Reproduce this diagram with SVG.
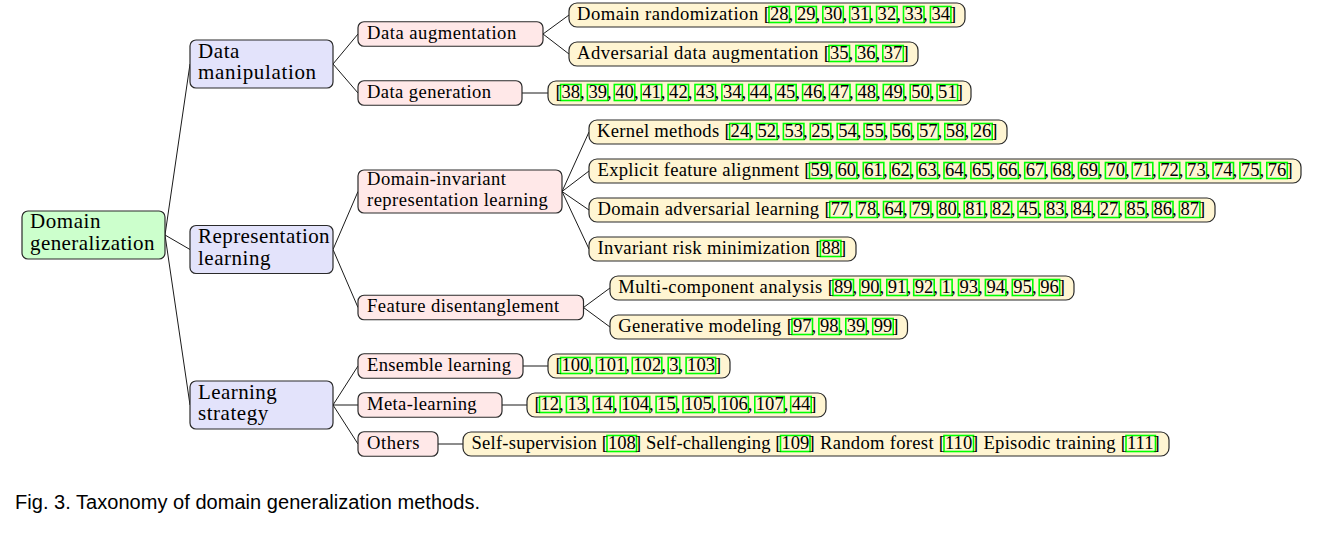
<svg xmlns="http://www.w3.org/2000/svg" width="1324" height="540" viewBox="0 0 1324 540">
<style>
.bg{fill:#ffffff}
.e path{stroke:#000;stroke-width:0.9;fill:none}
.r0{fill:#ccffcc;stroke:#2a2a2a;stroke-width:1.2}
.r1{fill:#e3e3fb;stroke:#2a2a2a;stroke-width:1.2}
.r2{fill:#ffe8e8;stroke:#2a2a2a;stroke-width:1.2}
.r3{fill:#fff5d2;stroke:#2a2a2a;stroke-width:1.2}
.c{fill:none;stroke:#00ff00;stroke-width:1.6}
text{font-family:"Liberation Serif","Times New Roman",serif;fill:#000}
.t1{font-size:21px}
.t2{font-size:18.6px}
.cap{font-family:"Liberation Sans",Arial,sans-serif;font-size:20px}
</style>
<rect class="bg" x="0" y="0" width="1324" height="540"/>
<g id="connectors" class="e">
<path d="M165,235 L190,64 M165,235 L190,249.5 M165,235 L190,405"/>
<path d="M333,64 L358,34 M333,64 L358,93"/>
<path d="M333,249.5 L358,191.5 M333,249.5 L358,307.5"/>
<path d="M333,405 L358,366 M333,405 L358,405 M333,405 L358,444"/>
<path d="M543,34 L569,15 M543,34 L569,54"/>
<path d="M522,93 L548,93"/>
<path d="M562,191.5 L589,132 M562,191.5 L589,171 M562,191.5 L589,210 M562,191.5 L589,249"/>
<path d="M583.5,307.5 L610,288 M583.5,307.5 L610,327"/>
<path d="M523,366 L548,366 M502,405 L527,405 M438,444 L463,444"/>
</g>
<g id="root">
<rect class="r0" x="22" y="211" width="143" height="48" rx="6"/>
<text class="t1" x="30" y="228" textLength="70.4">Domain</text>
<text class="t1" x="30" y="249.5" textLength="124.5">generalization</text>
</g>
<g id="data-manipulation">
<rect class="r1" x="190" y="40" width="143" height="48" rx="6"/>
<text class="t1" x="198" y="57.5" textLength="41.4">Data</text>
<text class="t1" x="198" y="79" textLength="118.1">manipulation</text>
</g>
<g id="representation-learning">
<rect class="r1" x="190" y="225.5" width="143" height="48" rx="6"/>
<text class="t1" x="198" y="243" textLength="131.6">Representation</text>
<text class="t1" x="198" y="264.5" textLength="72.4">learning</text>
</g>
<g id="learning-strategy">
<rect class="r1" x="190" y="381" width="143" height="48" rx="6"/>
<text class="t1" x="198" y="398.5" textLength="78.7">Learning</text>
<text class="t1" x="198" y="420" textLength="70.2">strategy</text>
</g>
<g id="data-augmentation">
<rect class="r2" x="358" y="21.75" width="185" height="24.5" rx="6"/>
<text class="t2" x="367" y="38.5" textLength="149.2">Data augmentation</text>
</g>
<g id="data-generation">
<rect class="r2" x="358" y="80.75" width="164" height="24.5" rx="6"/>
<text class="t2" x="367" y="97.5" textLength="124">Data generation</text>
</g>
<g id="domain-invariant">
<rect class="r2" x="358" y="170" width="204" height="43" rx="6"/>
<text class="t2" x="367" y="185" textLength="139">Domain-invariant</text>
<text class="t2" x="367" y="206" textLength="180.8">representation learning</text>
</g>
<g id="feature-disentanglement">
<rect class="r2" x="358" y="295.25" width="225.5" height="24.5" rx="6"/>
<text class="t2" x="367" y="312" textLength="192.1">Feature disentanglement</text>
</g>
<g id="ensemble-learning">
<rect class="r2" x="358" y="353.75" width="165" height="24.5" rx="6"/>
<text class="t2" x="367" y="370.5" textLength="144">Ensemble learning</text>
</g>
<g id="meta-learning">
<rect class="r2" x="358" y="392.75" width="144" height="24.5" rx="6"/>
<text class="t2" x="367" y="409.5" textLength="109.6">Meta-learning</text>
</g>
<g id="others">
<rect class="r2" x="358" y="431.75" width="80" height="24.5" rx="6"/>
<text class="t2" x="367" y="448.5" textLength="52.4">Others</text>
</g>
<g id="leaf-domain-randomization">
<rect class="r3" x="569" y="3" width="396" height="24" rx="8"/>
<g class="c"><rect x="769" y="6.5" width="20.5" height="16"/><rect x="795.9" y="6.5" width="20.5" height="16"/><rect x="822.8" y="6.5" width="20.5" height="16"/><rect x="849.7" y="6.5" width="20.5" height="16"/><rect x="876.6" y="6.5" width="20.5" height="16"/><rect x="903.5" y="6.5" width="20.5" height="16"/><rect x="930.4" y="6.5" width="20.5" height="16"/></g>
<text class="t2" y="19.5"><tspan x="577" textLength="193">Domain randomization [</tspan><tspan x="770">28, </tspan><tspan x="796.9">29, </tspan><tspan x="823.8">30, </tspan><tspan x="850.7">31, </tspan><tspan x="877.6">32, </tspan><tspan x="904.5">33, </tspan><tspan x="931.4">34]</tspan></text>
</g>
<g id="leaf-adversarial-data-augmentation">
<rect class="r3" x="569" y="42" width="349" height="24" rx="8"/>
<g class="c"><rect x="829" y="45.5" width="20.5" height="16"/><rect x="855.9" y="45.5" width="20.5" height="16"/><rect x="882.8" y="45.5" width="20.5" height="16"/></g>
<text class="t2" y="58.5"><tspan x="577" textLength="253">Adversarial data augmentation [</tspan><tspan x="830">35, </tspan><tspan x="856.9">36, </tspan><tspan x="883.8">37]</tspan></text>
</g>
<g id="leaf-data-generation-refs">
<rect class="r3" x="548" y="81" width="423" height="24" rx="8"/>
<g class="c"><rect x="560.5" y="84.5" width="20.5" height="16"/><rect x="587.4" y="84.5" width="20.5" height="16"/><rect x="614.3" y="84.5" width="20.5" height="16"/><rect x="641.2" y="84.5" width="20.5" height="16"/><rect x="668.1" y="84.5" width="20.5" height="16"/><rect x="695" y="84.5" width="20.5" height="16"/><rect x="721.9" y="84.5" width="20.5" height="16"/><rect x="748.8" y="84.5" width="20.5" height="16"/><rect x="775.7" y="84.5" width="20.5" height="16"/><rect x="802.6" y="84.5" width="20.5" height="16"/><rect x="829.5" y="84.5" width="20.5" height="16"/><rect x="856.4" y="84.5" width="20.5" height="16"/><rect x="883.3" y="84.5" width="20.5" height="16"/><rect x="910.2" y="84.5" width="20.5" height="16"/><rect x="937.1" y="84.5" width="20.5" height="16"/></g>
<text class="t2" y="97.5"><tspan x="555.5">[</tspan><tspan x="561.5">38, </tspan><tspan x="588.4">39, </tspan><tspan x="615.3">40, </tspan><tspan x="642.2">41, </tspan><tspan x="669.1">42, </tspan><tspan x="696">43, </tspan><tspan x="722.9">34, </tspan><tspan x="749.8">44, </tspan><tspan x="776.7">45, </tspan><tspan x="803.6">46, </tspan><tspan x="830.5">47, </tspan><tspan x="857.4">48, </tspan><tspan x="884.3">49, </tspan><tspan x="911.2">50, </tspan><tspan x="938.1">51]</tspan></text>
</g>
<g id="leaf-kernel-methods">
<rect class="r3" x="589" y="120" width="418" height="24" rx="8"/>
<g class="c"><rect x="729.6" y="123.5" width="20.5" height="16"/><rect x="756.5" y="123.5" width="20.5" height="16"/><rect x="783.4" y="123.5" width="20.5" height="16"/><rect x="810.3" y="123.5" width="20.5" height="16"/><rect x="837.2" y="123.5" width="20.5" height="16"/><rect x="864.1" y="123.5" width="20.5" height="16"/><rect x="891" y="123.5" width="20.5" height="16"/><rect x="917.9" y="123.5" width="20.5" height="16"/><rect x="944.8" y="123.5" width="20.5" height="16"/><rect x="971.7" y="123.5" width="20.5" height="16"/></g>
<text class="t2" y="136.5"><tspan x="597" textLength="133.6">Kernel methods [</tspan><tspan x="730.6">24, </tspan><tspan x="757.5">52, </tspan><tspan x="784.4">53, </tspan><tspan x="811.3">25, </tspan><tspan x="838.2">54, </tspan><tspan x="865.1">55, </tspan><tspan x="892">56, </tspan><tspan x="918.9">57, </tspan><tspan x="945.8">58, </tspan><tspan x="972.7">26]</tspan></text>
</g>
<g id="leaf-explicit-feature-alignment">
<rect class="r3" x="589" y="159" width="712" height="24" rx="8"/>
<g class="c"><rect x="809.5" y="162.5" width="20.5" height="16"/><rect x="836.4" y="162.5" width="20.5" height="16"/><rect x="863.3" y="162.5" width="20.5" height="16"/><rect x="890.2" y="162.5" width="20.5" height="16"/><rect x="917.1" y="162.5" width="20.5" height="16"/><rect x="944" y="162.5" width="20.5" height="16"/><rect x="970.9" y="162.5" width="20.5" height="16"/><rect x="997.8" y="162.5" width="20.5" height="16"/><rect x="1024.7" y="162.5" width="20.5" height="16"/><rect x="1051.6" y="162.5" width="20.5" height="16"/><rect x="1078.5" y="162.5" width="20.5" height="16"/><rect x="1105.4" y="162.5" width="20.5" height="16"/><rect x="1132.3" y="162.5" width="20.5" height="16"/><rect x="1159.2" y="162.5" width="20.5" height="16"/><rect x="1186.1" y="162.5" width="20.5" height="16"/><rect x="1213" y="162.5" width="20.5" height="16"/><rect x="1239.9" y="162.5" width="20.5" height="16"/><rect x="1266.8" y="162.5" width="20.5" height="16"/></g>
<text class="t2" y="175.5"><tspan x="597.5" textLength="213">Explicit feature alignment [</tspan><tspan x="810.5">59, </tspan><tspan x="837.4">60, </tspan><tspan x="864.3">61, </tspan><tspan x="891.2">62, </tspan><tspan x="918.1">63, </tspan><tspan x="945">64, </tspan><tspan x="971.9">65, </tspan><tspan x="998.8">66, </tspan><tspan x="1025.7">67, </tspan><tspan x="1052.6">68, </tspan><tspan x="1079.5">69, </tspan><tspan x="1106.4">70, </tspan><tspan x="1133.3">71, </tspan><tspan x="1160.2">72, </tspan><tspan x="1187.1">73, </tspan><tspan x="1214">74, </tspan><tspan x="1240.9">75, </tspan><tspan x="1267.8">76]</tspan></text>
</g>
<g id="leaf-domain-adversarial-learning">
<rect class="r3" x="589" y="198" width="626" height="24" rx="8"/>
<g class="c"><rect x="829.7" y="201.5" width="20.5" height="16"/><rect x="856.6" y="201.5" width="20.5" height="16"/><rect x="883.5" y="201.5" width="20.5" height="16"/><rect x="910.4" y="201.5" width="20.5" height="16"/><rect x="937.3" y="201.5" width="20.5" height="16"/><rect x="964.2" y="201.5" width="20.5" height="16"/><rect x="991.1" y="201.5" width="20.5" height="16"/><rect x="1018" y="201.5" width="20.5" height="16"/><rect x="1044.9" y="201.5" width="20.5" height="16"/><rect x="1071.8" y="201.5" width="20.5" height="16"/><rect x="1098.7" y="201.5" width="20.5" height="16"/><rect x="1125.6" y="201.5" width="20.5" height="16"/><rect x="1152.5" y="201.5" width="20.5" height="16"/><rect x="1179.4" y="201.5" width="20.5" height="16"/></g>
<text class="t2" y="214.5"><tspan x="597.5" textLength="233.2">Domain adversarial learning [</tspan><tspan x="830.7">77, </tspan><tspan x="857.6">78, </tspan><tspan x="884.5">64, </tspan><tspan x="911.4">79, </tspan><tspan x="938.3">80, </tspan><tspan x="965.2">81, </tspan><tspan x="992.1">82, </tspan><tspan x="1019">45, </tspan><tspan x="1045.9">83, </tspan><tspan x="1072.8">84, </tspan><tspan x="1099.7">27, </tspan><tspan x="1126.6">85, </tspan><tspan x="1153.5">86, </tspan><tspan x="1180.4">87]</tspan></text>
</g>
<g id="leaf-invariant-risk-minimization">
<rect class="r3" x="589" y="237" width="267" height="24" rx="8"/>
<g class="c"><rect x="820.4" y="240.5" width="20.5" height="16"/></g>
<text class="t2" y="253.5"><tspan x="597.5" textLength="223.9">Invariant risk minimization [</tspan><tspan x="821.4">88]</tspan></text>
</g>
<g id="leaf-multi-component-analysis">
<rect class="r3" x="610" y="276" width="464" height="24" rx="8"/>
<g class="c"><rect x="833" y="279.5" width="20.5" height="16"/><rect x="859.9" y="279.5" width="20.5" height="16"/><rect x="886.8" y="279.5" width="20.5" height="16"/><rect x="913.7" y="279.5" width="20.5" height="16"/><rect x="940.6" y="279.5" width="11.5" height="16"/><rect x="958.5" y="279.5" width="20.5" height="16"/><rect x="985.4" y="279.5" width="20.5" height="16"/><rect x="1012.3" y="279.5" width="20.5" height="16"/><rect x="1039.2" y="279.5" width="20.5" height="16"/></g>
<text class="t2" y="292.5"><tspan x="618.3" textLength="215.7">Multi-component analysis [</tspan><tspan x="834">89, </tspan><tspan x="860.9">90, </tspan><tspan x="887.8">91, </tspan><tspan x="914.7">92, </tspan><tspan x="941.6">1, </tspan><tspan x="959.5">93, </tspan><tspan x="986.4">94, </tspan><tspan x="1013.3">95, </tspan><tspan x="1040.2">96]</tspan></text>
</g>
<g id="leaf-generative-modeling">
<rect class="r3" x="610" y="315" width="297.5" height="24" rx="8"/>
<g class="c"><rect x="792" y="318.5" width="20.5" height="16"/><rect x="818.9" y="318.5" width="20.5" height="16"/><rect x="845.8" y="318.5" width="20.5" height="16"/><rect x="872.7" y="318.5" width="20.5" height="16"/></g>
<text class="t2" y="331.5"><tspan x="618.3" textLength="174.7">Generative modeling [</tspan><tspan x="793">97, </tspan><tspan x="819.9">98, </tspan><tspan x="846.8">39, </tspan><tspan x="873.7">99]</tspan></text>
</g>
<g id="leaf-ensemble-refs">
<rect class="r3" x="548" y="354" width="182" height="24" rx="8"/>
<g class="c"><rect x="560.5" y="357.5" width="29.5" height="16"/><rect x="596.4" y="357.5" width="29.5" height="16"/><rect x="632.3" y="357.5" width="29.5" height="16"/><rect x="668.2" y="357.5" width="11.5" height="16"/><rect x="686.1" y="357.5" width="29.5" height="16"/></g>
<text class="t2" y="370.5"><tspan x="555.5">[</tspan><tspan x="561.5">100, </tspan><tspan x="597.4">101, </tspan><tspan x="633.3">102, </tspan><tspan x="669.2">3, </tspan><tspan x="687.1">103]</tspan></text>
</g>
<g id="leaf-meta-refs">
<rect class="r3" x="527" y="393" width="299" height="24" rx="8"/>
<g class="c"><rect x="539.5" y="396.5" width="20.5" height="16"/><rect x="566.4" y="396.5" width="20.5" height="16"/><rect x="593.3" y="396.5" width="20.5" height="16"/><rect x="620.2" y="396.5" width="29.5" height="16"/><rect x="656.1" y="396.5" width="20.5" height="16"/><rect x="683" y="396.5" width="29.5" height="16"/><rect x="718.9" y="396.5" width="29.5" height="16"/><rect x="754.8" y="396.5" width="29.5" height="16"/><rect x="790.7" y="396.5" width="20.5" height="16"/></g>
<text class="t2" y="409.5"><tspan x="534.5">[</tspan><tspan x="540.5">12, </tspan><tspan x="567.4">13, </tspan><tspan x="594.3">14, </tspan><tspan x="621.2">104, </tspan><tspan x="657.1">15, </tspan><tspan x="684">105, </tspan><tspan x="719.9">106, </tspan><tspan x="755.8">107, </tspan><tspan x="791.7">44]</tspan></text>
</g>
<g id="leaf-others-refs">
<rect class="r3" x="463" y="432" width="706" height="24" rx="8"/>
<g class="c"><rect x="607" y="435.5" width="29.5" height="16"/><rect x="780.5" y="435.5" width="29.5" height="16"/><rect x="944" y="435.5" width="29.5" height="16"/><rect x="1126" y="435.5" width="29.5" height="16"/></g>
<text class="t2" y="448.5"><tspan x="471.5" textLength="136.5">Self-supervision [</tspan><tspan x="608">108</tspan><tspan x="635" textLength="146.5">] Self-challenging [</tspan><tspan x="781.5">109</tspan><tspan x="808.5" textLength="136.5">] Random forest [</tspan><tspan x="945">110</tspan><tspan x="972" textLength="155">] Episodic training [</tspan><tspan x="1127">111]</tspan></text>
</g>
<text class="cap" x="15" y="509" textLength="465">Fig. 3. Taxonomy of domain generalization methods.</text>
</svg>
